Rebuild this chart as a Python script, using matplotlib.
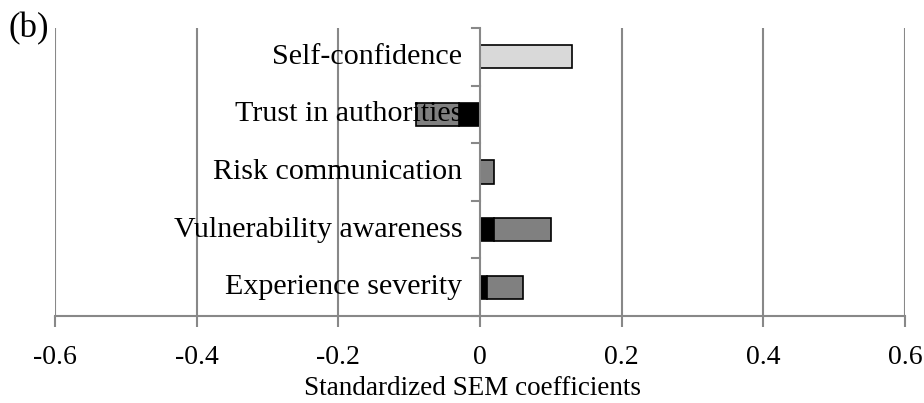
import numpy as np
import matplotlib
import matplotlib.pyplot as plt

plt.rcParams.update({
    "font.family": ["Liberation Serif", "DejaVu Serif"],
    "figure.facecolor": "white",
    "axes.facecolor": "white",
})

# Data (top to bottom as shown)
categories = ["Self-confidence", "Trust in authorities", "Risk communication",
              "Vulnerability awareness", "Experience severity"]
direct = [0.0, -0.03, 0.0, 0.02, 0.01]        # black segment
indirect = [0.0, -0.06, 0.02, 0.08, 0.05]     # grey segment
total_only = [0.13, 0.0, 0.0, 0.0, 0.0]        # light grey bar
xticks = [-0.6, -0.4, -0.2, 0, 0.2, 0.4, 0.6]
xtick_labels = ["-0.6", "-0.4", "-0.2", "0", "0.2", "0.4", "0.6"]

GRID = "#888888"

fig = plt.figure(figsize=(9.24, 4.03), dpi=100)
ax = fig.add_axes([55 / 924, 1 - 316 / 403, 850 / 924, 288 / 403])

y = np.arange(len(categories))[::-1]
h = 0.4
ax.barh(y, total_only, height=h, color="#d9d9d9", edgecolor="black", linewidth=1.2, zorder=3)
ax.barh(y, direct, height=h, color="black", edgecolor="black", linewidth=1.2, zorder=3)
ax.barh(y, indirect, height=h, left=direct, color="#808080", edgecolor="black", linewidth=1.2, zorder=3)

ax.set_xlim(-0.6, 0.6)
ax.set_ylim(-0.5, len(categories) - 0.5)

# vertical gridlines
for xv in xticks:
    if xv != 0:
        ax.axvline(xv, color=GRID, linewidth=1.5, zorder=1)
ax.axvline(0, color=GRID, linewidth=1.5, zorder=4)

for s in ["top", "right", "left"]:
    ax.spines[s].set_visible(False)
ax.spines["bottom"].set_color(GRID)
ax.spines["bottom"].set_linewidth(1.5)

ax.set_xticks(xticks)
ax.set_xticklabels(xtick_labels, fontsize=20)
ax.tick_params(axis="x", direction="out", length=8, width=1.5, color=GRID, pad=13)

# category boundary ticks at the zero line
ax.set_yticks([])
for b in np.arange(-0.5, len(categories), 1.0):
    ax.plot([-0.0115, 0], [b, b], color=GRID, linewidth=1.5, zorder=4, clip_on=False)

# category labels placed left of the zero line (drawn over the bars)
for yi, lab in zip(y, categories):
    ax.text(-0.025, yi, lab, ha="right", va="center", fontsize=21.6, zorder=3.5)

fig.text(472 / 924, 1 - 395 / 403, "Standardized SEM coefficients",
         fontsize=19.5, ha="center", va="baseline")
fig.text(9 / 924, 1 - 29 / 403, "(b)", fontsize=25, ha="left", va="center")

fig.savefig("out.png", dpi=100)
